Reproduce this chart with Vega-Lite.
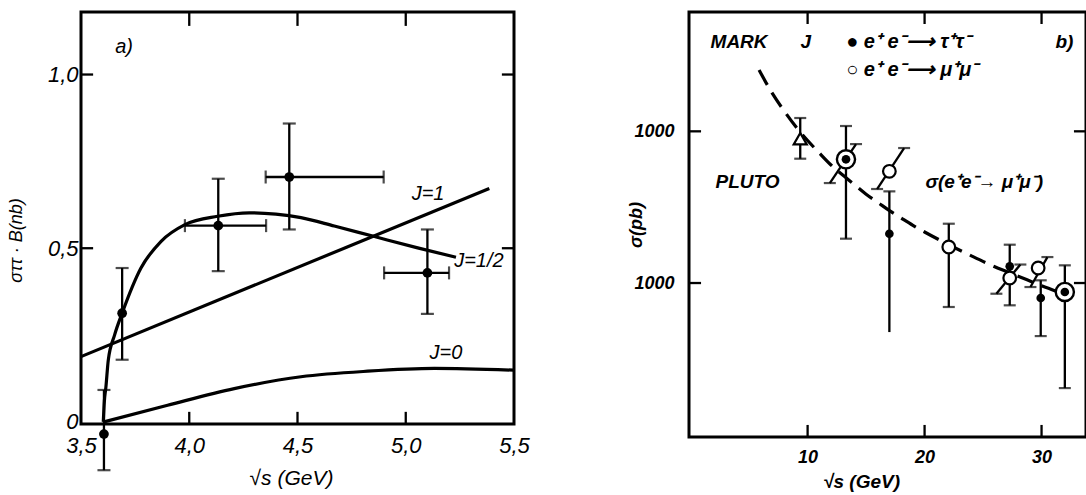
{
  "$schema": "https://vega.github.io/schema/vega-lite/v6.json",
  "background": "white",
  "padding": {"left": 5, "top": 9, "right": 0, "bottom": 0},
  "spacing": 175,
  "bounds": "flush",
  "config": {
    "view": {"stroke": "black", "strokeWidth": 3},
    "axis": {"domain": false, "grid": false, "tickSize": 0, "tickOpacity": 0, "labelColor": "black", "titleColor": "black", "labelFont": "Liberation Sans", "titleFont": "Liberation Sans", "labelFontStyle": "italic", "titleFontStyle": "italic", "labelFlush": false, "labelOverlap": false},
    "text": {"font": "Liberation Sans", "fontStyle": "italic", "color": "black"}
  },
  "datasets": {
    "curvesA": [
      {"curve": "J=1/2", "x": 3.603, "y": 0.0},
      {"curve": "J=1/2", "x": 3.608, "y": 0.06},
      {"curve": "J=1/2", "x": 3.615, "y": 0.10},
      {"curve": "J=1/2", "x": 3.626, "y": 0.178},
      {"curve": "J=1/2", "x": 3.655, "y": 0.25},
      {"curve": "J=1/2", "x": 3.69, "y": 0.313},
      {"curve": "J=1/2", "x": 3.777, "y": 0.443},
      {"curve": "J=1/2", "x": 3.87, "y": 0.52},
      {"curve": "J=1/2", "x": 3.98, "y": 0.568},
      {"curve": "J=1/2", "x": 4.131, "y": 0.592},
      {"curve": "J=1/2", "x": 4.277, "y": 0.602},
      {"curve": "J=1/2", "x": 4.40, "y": 0.598},
      {"curve": "J=1/2", "x": 4.516, "y": 0.588},
      {"curve": "J=1/2", "x": 4.67, "y": 0.564},
      {"curve": "J=1/2", "x": 4.847, "y": 0.535},
      {"curve": "J=1/2", "x": 5.055, "y": 0.501},
      {"curve": "J=1/2", "x": 5.232, "y": 0.474},
      {"curve": "J=1", "x": 3.5, "y": 0.188},
      {"curve": "J=1", "x": 5.386, "y": 0.672},
      {"curve": "J=0", "x": 3.606, "y": 0.0},
      {"curve": "J=0", "x": 3.9, "y": 0.048},
      {"curve": "J=0", "x": 4.208, "y": 0.096},
      {"curve": "J=0", "x": 4.516, "y": 0.130},
      {"curve": "J=0", "x": 4.824, "y": 0.146},
      {"curve": "J=0", "x": 5.132, "y": 0.154},
      {"curve": "J=0", "x": 5.5, "y": 0.149}
    ],
    "ptsA": [
      {"x": 3.606, "y": -0.035, "ylo": -0.139, "yhi": 0.092},
      {"x": 3.69, "y": 0.313, "ylo": 0.179, "yhi": 0.443},
      {"x": 4.134, "y": 0.565, "ylo": 0.434, "yhi": 0.70, "xlo": 3.98, "xhi": 4.355},
      {"x": 4.462, "y": 0.705, "ylo": 0.554, "yhi": 0.859, "xlo": 4.353, "xhi": 4.898},
      {"x": 5.10, "y": 0.429, "ylo": 0.311, "yhi": 0.554, "xlo": 4.90, "xhi": 5.20}
    ],
    "vrulesA": [
      {"x": 3.606, "ylo": -0.139, "yhi": 0.092},
      {"x": 3.69, "ylo": 0.179, "yhi": 0.443},
      {"x": 4.134, "ylo": 0.434, "yhi": 0.70},
      {"x": 4.462, "ylo": 0.554, "yhi": 0.859},
      {"x": 5.10, "ylo": 0.311, "yhi": 0.554},
      {"x": 4.0, "ylo": -0.004, "yhi": 0.029},
      {"x": 4.5, "ylo": -0.004, "yhi": 0.029},
      {"x": 5.0, "ylo": -0.004, "yhi": 0.029},
      {"x": 4.0, "ylo": 1.14, "yhi": 1.178},
      {"x": 4.5, "ylo": 1.14, "yhi": 1.178},
      {"x": 5.0, "ylo": 1.14, "yhi": 1.178}
    ],
    "hrulesA": [
      {"xlo": 3.98, "xhi": 4.355, "y": 0.565},
      {"xlo": 4.353, "xhi": 4.898, "y": 0.705},
      {"xlo": 4.90, "xhi": 5.20, "y": 0.429},
      {"xlo": 3.502, "xhi": 3.556, "y": 0.5},
      {"xlo": 3.502, "xhi": 3.556, "y": 1.0},
      {"xlo": 5.444, "xhi": 5.498, "y": 0.5},
      {"xlo": 5.444, "xhi": 5.498, "y": 1.0}
    ],
    "textA": [
      {"x": 3.699, "y": 1.078, "text": "a)"},
      {"x": 5.103, "y": 0.656, "text": "J=1"},
      {"x": 5.338, "y": 0.462, "text": "J=1/2"},
      {"x": 5.186, "y": 0.197, "text": "J=0"}
    ],
    "curveB": [
      {"x": 5.85, "y": 2540}, {"x": 7, "y": 1770}, {"x": 8, "y": 1360}, {"x": 9, "y": 1070},
      {"x": 10, "y": 870}, {"x": 11, "y": 720}, {"x": 12, "y": 600}, {"x": 13, "y": 515},
      {"x": 14, "y": 445}, {"x": 15, "y": 385}, {"x": 16, "y": 340}, {"x": 17, "y": 300},
      {"x": 18, "y": 268}, {"x": 19, "y": 240}, {"x": 20, "y": 217}, {"x": 22, "y": 180},
      {"x": 24, "y": 151}, {"x": 26, "y": 128}, {"x": 28, "y": 111}, {"x": 30, "y": 96},
      {"x": 31.5, "y": 87}
    ],
    "vbarsB": [
      {"x": 9.37, "ylo": 660, "yhi": 1224},
      {"x": 13.28, "ylo": 196, "yhi": 1084},
      {"x": 16.99, "ylo": 47.5, "yhi": 402},
      {"x": 22.07, "ylo": 69.5, "yhi": 246},
      {"x": 27.28, "ylo": 71.3, "yhi": 178.9},
      {"x": 29.93, "ylo": 44.7, "yhi": 104.2},
      {"x": 31.99, "ylo": 20.3, "yhi": 130.8},
      {"x": 10, "ylo": 9.72, "yhi": 11.6},
      {"x": 20, "ylo": 9.72, "yhi": 11.6},
      {"x": 30, "ylo": 9.72, "yhi": 11.6},
      {"x": 10, "ylo": 5100, "yhi": 6080},
      {"x": 20, "ylo": 5100, "yhi": 6080},
      {"x": 30, "ylo": 5100, "yhi": 6080}
    ],
    "slantB": [
      {"x": 11.9, "y": 456, "x2": 14.14, "y2": 824},
      {"x": 15.94, "y": 416.6, "x2": 18.25, "y2": 776},
      {"x": 26.14, "y": 85, "x2": 28.19, "y2": 132.4},
      {"x": 29.05, "y": 94.1, "x2": 30.5, "y2": 148.3},
      {"x": -0.12, "y": 100, "x2": 0.89, "y2": 100},
      {"x": -0.12, "y": 1000, "x2": 0.89, "y2": 1000},
      {"x": 32.77, "y": 100, "x2": 33.78, "y2": 100},
      {"x": 32.77, "y": 1000, "x2": 33.78, "y2": 1000}
    ],
    "capsB": [
      {"x": 9.37, "y": 660}, {"x": 9.37, "y": 1224},
      {"x": 13.28, "y": 196}, {"x": 13.28, "y": 1084},
      {"x": 16.99, "y": 402},
      {"x": 22.07, "y": 69.5}, {"x": 22.07, "y": 246},
      {"x": 27.28, "y": 71.3}, {"x": 27.28, "y": 178.9},
      {"x": 29.93, "y": 44.7}, {"x": 29.93, "y": 104.2},
      {"x": 31.99, "y": 20.3}, {"x": 31.99, "y": 130.8},
      {"x": 11.9, "y": 456}, {"x": 14.14, "y": 824},
      {"x": 15.94, "y": 416.6}, {"x": 18.25, "y": 776},
      {"x": 26.14, "y": 85}, {"x": 28.19, "y": 132.4},
      {"x": 29.05, "y": 94.1}, {"x": 30.5, "y": 148.3}
    ],
    "ptsB": [
      {"kind": "pluto", "x": 9.37, "y": 894},
      {"kind": "mubig", "x": 13.28, "y": 654},
      {"kind": "mubig", "x": 31.99, "y": 87.3},
      {"kind": "tau", "x": 13.28, "y": 654},
      {"kind": "tau", "x": 16.99, "y": 211.3},
      {"kind": "tau", "x": 27.28, "y": 128.8},
      {"kind": "tau", "x": 29.93, "y": 79.7},
      {"kind": "tau", "x": 31.99, "y": 87.3},
      {"kind": "mu", "x": 16.99, "y": 545},
      {"kind": "mu", "x": 22.07, "y": 172.7},
      {"kind": "mu", "x": 27.28, "y": 107.9},
      {"kind": "mu", "x": 29.71, "y": 125.6}
    ],
    "textB": [
      {"x": 4.14, "y": 3879, "text": "MARK"},
      {"x": 9.85, "y": 3879, "text": "J"},
      {"x": 31.96, "y": 3879, "text": "b)"},
      {"x": 4.86, "y": 463, "text": "PLUTO"},
      {"x": 25.1, "y": 463, "text": "σ(e⁺e⁻→ μ⁺μ⁻)"}
    ],
    "legendB": [
      {"x": 13.3, "y": 3879, "text": "● e⁺ e⁻⟶ τ⁺τ⁻"},
      {"x": 13.3, "y": 2524, "text": "○ e⁺ e⁻⟶ μ⁺μ⁻"}
    ]
  },
  "hconcat": [
    {
      "width": 433,
      "height": 412,
      "layer": [
        {
          "data": {"name": "curvesA"},
          "mark": {"type": "line", "interpolate": "monotone", "color": "black", "strokeWidth": 3.2},
          "encoding": {
            "x": {"field": "x", "type": "quantitative", "scale": {"domain": [3.5, 5.5], "nice": false, "zero": false},
              "axis": {"orient": "bottom", "values": [3.5, 4, 4.5, 5, 5.5], "labelExpr": "replace(format(datum.value, '.1f'), '.', ',')", "labelFontSize": 22, "labelPadding": 11, "title": "√s  (GeV)", "titleFontSize": 21, "titleFontWeight": "normal", "titlePadding": 11, "titleX": 210}},
            "y": {"field": "y", "type": "quantitative", "scale": {"domain": [-0.006, 1.18], "nice": false, "zero": false},
              "axis": {"orient": "left", "values": [0, 0.5, 1], "labelExpr": "datum.value == 0 ? '0' : replace(format(datum.value, '.1f'), '.', ',')", "labelFontSize": 22, "labelPadding": 3, "title": "σττ · B(nb)", "titleFontSize": 18, "titleFontWeight": "normal", "titlePadding": 22, "titleY": 228}},
            "detail": {"field": "curve"}
          }
        },
        {
          "data": {"name": "vrulesA"},
          "mark": {"type": "rule", "color": "black", "strokeWidth": 2.3},
          "encoding": {
            "x": {"field": "x", "type": "quantitative", "axis": {"orient": "top", "values": [4, 4.5, 5], "labels": false, "title": null}},
            "y": {"field": "ylo", "type": "quantitative", "axis": {"orient": "right", "values": [0.5, 1], "labels": false, "title": null}},
            "y2": {"field": "yhi"}
          }
        },
        {
          "data": {"name": "hrulesA"},
          "mark": {"type": "rule", "color": "black", "strokeWidth": 2.3},
          "encoding": {"x": {"field": "xlo", "type": "quantitative", "axis": null}, "x2": {"field": "xhi"}, "y": {"field": "y", "type": "quantitative", "axis": null}}
        },
        {
          "data": {"name": "ptsA"},
          "mark": {"type": "tick", "orient": "horizontal", "color": "black", "size": 13, "thickness": 2.2},
          "encoding": {"x": {"field": "x", "type": "quantitative", "axis": null}, "y": {"field": "ylo", "type": "quantitative", "axis": null}}
        },
        {
          "data": {"name": "ptsA"},
          "mark": {"type": "tick", "orient": "horizontal", "color": "black", "size": 13, "thickness": 2.2},
          "encoding": {"x": {"field": "x", "type": "quantitative", "axis": null}, "y": {"field": "yhi", "type": "quantitative", "axis": null}}
        },
        {
          "data": {"name": "ptsA"},
          "transform": [{"filter": "isValid(datum.xlo)"}],
          "mark": {"type": "tick", "orient": "vertical", "color": "black", "size": 13, "thickness": 2.2},
          "encoding": {"x": {"field": "xlo", "type": "quantitative", "axis": null}, "y": {"field": "y", "type": "quantitative", "axis": null}}
        },
        {
          "data": {"name": "ptsA"},
          "transform": [{"filter": "isValid(datum.xhi)"}],
          "mark": {"type": "tick", "orient": "vertical", "color": "black", "size": 13, "thickness": 2.2},
          "encoding": {"x": {"field": "xhi", "type": "quantitative", "axis": null}, "y": {"field": "y", "type": "quantitative", "axis": null}}
        },
        {
          "data": {"name": "ptsA"},
          "mark": {"type": "point", "shape": "circle", "filled": true, "color": "black", "size": 95, "opacity": 1},
          "encoding": {"x": {"field": "x", "type": "quantitative", "axis": null}, "y": {"field": "y", "type": "quantitative", "axis": null}}
        },
        {
          "data": {"name": "textA"},
          "mark": {"type": "text", "fontSize": 20, "align": "center", "baseline": "middle"},
          "encoding": {"x": {"field": "x", "type": "quantitative", "axis": null}, "y": {"field": "y", "type": "quantitative", "axis": null}, "text": {"field": "text"}}
        }
      ]
    },
    {
      "width": 397,
      "height": 425,
      "layer": [
        {
          "data": {"name": "curveB"},
          "mark": {"type": "line", "interpolate": "monotone", "color": "black", "strokeWidth": 3.2, "strokeDash": [17, 9]},
          "encoding": {
            "x": {"field": "x", "type": "quantitative", "scale": {"domain": [-0.14, 33.8], "nice": false, "zero": false},
              "axis": {"orient": "bottom", "values": [10, 20, 30], "labelFontSize": 18, "labelFontWeight": "bold", "labelPadding": 11, "title": "√s  (GeV)", "titleFontSize": 19, "titleFontWeight": "bold", "titlePadding": 6, "titleX": 172}},
            "y": {"field": "y", "type": "quantitative", "scale": {"type": "log", "domain": [9.66, 6118], "nice": false},
              "axis": {"orient": "left", "values": [100, 1000], "labelExpr": "'1000'", "labelFontSize": 18, "labelFontWeight": "bold", "labelPadding": 15, "title": "σ(pb)", "titleFontSize": 18, "titleFontWeight": "bold", "titlePadding": -12}}
          }
        },
        {
          "data": {"name": "vbarsB"},
          "mark": {"type": "rule", "color": "black", "strokeWidth": 2.3},
          "encoding": {
            "x": {"field": "x", "type": "quantitative", "axis": {"orient": "top", "values": [10, 20, 30], "labels": false, "title": null}},
            "y": {"field": "ylo", "type": "quantitative", "axis": {"orient": "right", "values": [100, 1000], "labels": false, "title": null}},
            "y2": {"field": "yhi"}
          }
        },
        {
          "data": {"name": "slantB"},
          "mark": {"type": "rule", "color": "black", "strokeWidth": 2.3},
          "encoding": {
            "x": {"field": "x", "type": "quantitative", "axis": null}, "x2": {"field": "x2"},
            "y": {"field": "y", "type": "quantitative", "axis": null}, "y2": {"field": "y2"}
          }
        },
        {
          "data": {"name": "capsB"},
          "mark": {"type": "tick", "orient": "horizontal", "color": "black", "size": 12, "thickness": 2.2},
          "encoding": {"x": {"field": "x", "type": "quantitative", "axis": null}, "y": {"field": "y", "type": "quantitative", "axis": null}}
        },
        {
          "data": {"name": "ptsB"},
          "transform": [{"filter": "datum.kind == 'pluto'"}],
          "mark": {"type": "point", "shape": "triangle-up", "filled": true, "fill": "white", "stroke": "black", "strokeWidth": 2.2, "size": 170, "opacity": 1},
          "encoding": {"x": {"field": "x", "type": "quantitative", "axis": null}, "y": {"field": "y", "type": "quantitative", "axis": null}}
        },
        {
          "data": {"name": "ptsB"},
          "transform": [{"filter": "datum.kind == 'mubig'"}],
          "mark": {"type": "point", "shape": "circle", "filled": true, "fill": "white", "stroke": "black", "strokeWidth": 2.4, "size": 330, "opacity": 1},
          "encoding": {"x": {"field": "x", "type": "quantitative", "axis": null}, "y": {"field": "y", "type": "quantitative", "axis": null}}
        },
        {
          "data": {"name": "ptsB"},
          "transform": [{"filter": "datum.kind == 'tau'"}],
          "mark": {"type": "point", "shape": "circle", "filled": true, "color": "black", "size": 75, "opacity": 1},
          "encoding": {"x": {"field": "x", "type": "quantitative", "axis": null}, "y": {"field": "y", "type": "quantitative", "axis": null}}
        },
        {
          "data": {"name": "ptsB"},
          "transform": [{"filter": "datum.kind == 'mu'"}],
          "mark": {"type": "point", "shape": "circle", "filled": true, "fill": "white", "stroke": "black", "strokeWidth": 2.2, "size": 160, "opacity": 1},
          "encoding": {"x": {"field": "x", "type": "quantitative", "axis": null}, "y": {"field": "y", "type": "quantitative", "axis": null}}
        },
        {
          "mark": {"type": "point", "shape": "triangle-down", "filled": true, "color": "black", "size": 100, "opacity": 1},
          "encoding": {"x": {"datum": 16.99, "type": "quantitative", "axis": null}, "y": {"datum": 52, "type": "quantitative", "axis": null}}
        },
        {
          "mark": {"type": "rule", "color": "black", "strokeWidth": 2.4},
          "encoding": {"x": {"datum": 5.72, "type": "quantitative", "axis": null}, "y": {"datum": 660, "type": "quantitative", "axis": null}, "x2": {"datum": 8.0}, "y2": {"datum": 790}}
        },
        {
          "mark": {"type": "point", "shape": "triangle-right", "filled": true, "color": "black", "size": 110, "angle": 336, "opacity": 1},
          "encoding": {"x": {"datum": 8.1, "type": "quantitative", "axis": null}, "y": {"datum": 800, "type": "quantitative", "axis": null}}
        },
        {
          "mark": {"type": "rule", "color": "black", "strokeWidth": 2.4},
          "encoding": {"x": {"datum": 21.42, "type": "quantitative", "axis": null}, "y": {"datum": 418, "type": "quantitative", "axis": null}, "x2": {"datum": 18.3}, "y2": {"datum": 265}}
        },
        {
          "mark": {"type": "point", "shape": "triangle-right", "filled": true, "color": "black", "size": 110, "angle": 140, "opacity": 1},
          "encoding": {"x": {"datum": 18.2, "type": "quantitative", "axis": null}, "y": {"datum": 262, "type": "quantitative", "axis": null}}
        },
        {
          "data": {"name": "textB"},
          "mark": {"type": "text", "fontSize": 19, "fontWeight": "bold", "align": "center", "baseline": "middle"},
          "encoding": {"x": {"field": "x", "type": "quantitative", "axis": null}, "y": {"field": "y", "type": "quantitative", "axis": null}, "text": {"field": "text"}}
        },
        {
          "data": {"name": "legendB"},
          "mark": {"type": "text", "fontSize": 20, "fontWeight": "bold", "align": "left", "baseline": "middle"},
          "encoding": {"x": {"field": "x", "type": "quantitative", "axis": null}, "y": {"field": "y", "type": "quantitative", "axis": null}, "text": {"field": "text"}}
        }
      ]
    }
  ]
}
